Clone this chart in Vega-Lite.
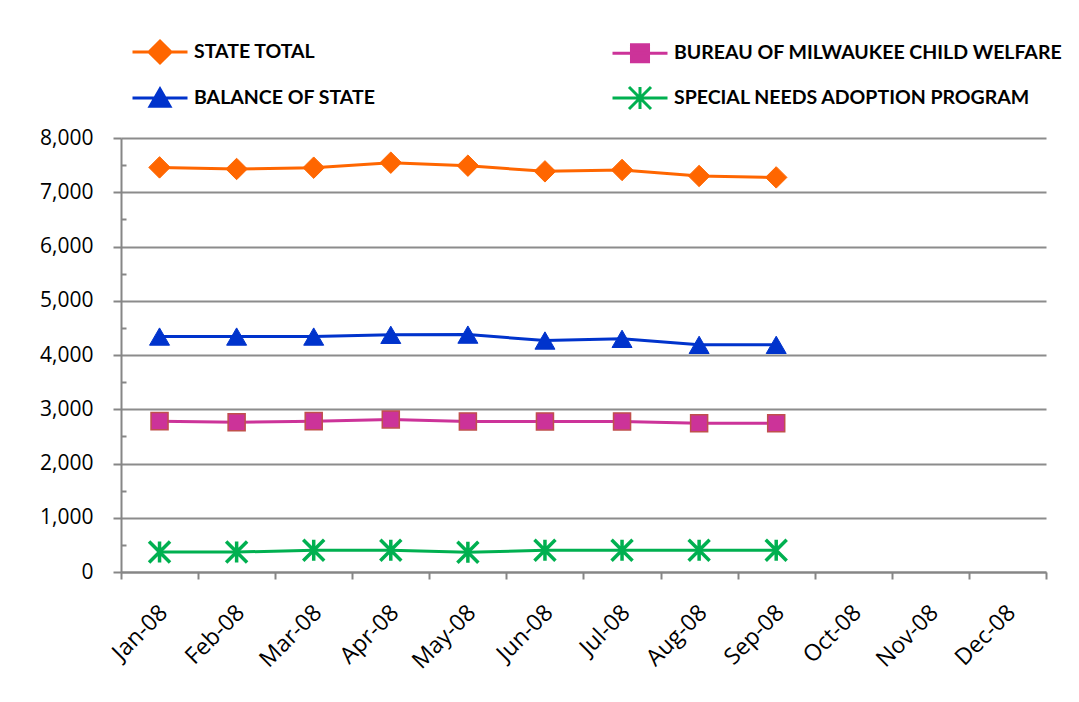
{
  "$schema": "https://vega.github.io/schema/vega-lite/v6.json",
  "width": 925,
  "height": 434,
  "autosize": {"type": "none"},
  "padding": {"left": 121, "top": 138, "right": 33, "bottom": 130},
  "background": "white",
  "config": {"view": {"stroke": null}, "font": "Open Sans"},
  "data": {
    "values": [
      {"month": "Jan-08", "series": "State Total", "value": 7458},
      {"month": "Feb-08", "series": "State Total", "value": 7429},
      {"month": "Mar-08", "series": "State Total", "value": 7453},
      {"month": "Apr-08", "series": "State Total", "value": 7545},
      {"month": "May-08", "series": "State Total", "value": 7490},
      {"month": "Jun-08", "series": "State Total", "value": 7385},
      {"month": "Jul-08", "series": "State Total", "value": 7411},
      {"month": "Aug-08", "series": "State Total", "value": 7300},
      {"month": "Sep-08", "series": "State Total", "value": 7274},
      {"month": "Jan-08", "series": "Bureau of Milwaukee Child Welfare", "value": 2781},
      {"month": "Feb-08", "series": "Bureau of Milwaukee Child Welfare", "value": 2762},
      {"month": "Mar-08", "series": "Bureau of Milwaukee Child Welfare", "value": 2781},
      {"month": "Apr-08", "series": "Bureau of Milwaukee Child Welfare", "value": 2812},
      {"month": "May-08", "series": "Bureau of Milwaukee Child Welfare", "value": 2776},
      {"month": "Jun-08", "series": "Bureau of Milwaukee Child Welfare", "value": 2776},
      {"month": "Jul-08", "series": "Bureau of Milwaukee Child Welfare", "value": 2776},
      {"month": "Aug-08", "series": "Bureau of Milwaukee Child Welfare", "value": 2740},
      {"month": "Sep-08", "series": "Bureau of Milwaukee Child Welfare", "value": 2740},
      {"month": "Jan-08", "series": "Balance of State", "value": 4340},
      {"month": "Feb-08", "series": "Balance of State", "value": 4340},
      {"month": "Mar-08", "series": "Balance of State", "value": 4340},
      {"month": "Apr-08", "series": "Balance of State", "value": 4372},
      {"month": "May-08", "series": "Balance of State", "value": 4376},
      {"month": "Jun-08", "series": "Balance of State", "value": 4267},
      {"month": "Jul-08", "series": "Balance of State", "value": 4298},
      {"month": "Aug-08", "series": "Balance of State", "value": 4187},
      {"month": "Sep-08", "series": "Balance of State", "value": 4187},
      {"month": "Jan-08", "series": "Special Needs Adoption Program", "value": 368},
      {"month": "Feb-08", "series": "Special Needs Adoption Program", "value": 368},
      {"month": "Mar-08", "series": "Special Needs Adoption Program", "value": 400},
      {"month": "Apr-08", "series": "Special Needs Adoption Program", "value": 400},
      {"month": "May-08", "series": "Special Needs Adoption Program", "value": 363},
      {"month": "Jun-08", "series": "Special Needs Adoption Program", "value": 400},
      {"month": "Jul-08", "series": "Special Needs Adoption Program", "value": 400},
      {"month": "Aug-08", "series": "Special Needs Adoption Program", "value": 400},
      {"month": "Sep-08", "series": "Special Needs Adoption Program", "value": 400}
    ]
  },
  "encoding": {
    "x": {
      "field": "month",
      "type": "ordinal",
      "scale": {
        "type": "band",
        "domain": ["Jan-08", "Feb-08", "Mar-08", "Apr-08", "May-08", "Jun-08", "Jul-08", "Aug-08", "Sep-08", "Oct-08", "Nov-08", "Dec-08"],
        "paddingInner": 0,
        "paddingOuter": 0
      },
      "axis": {
        "title": null,
        "tickBand": "extent",
        "labelAngle": -45,
        "labelFont": "Open Sans",
        "labelFontSize": 23,
        "labelColor": "black",
        "labelPadding": 22,
        "labelOffset": -4,
        "domainColor": "#868686",
        "domainWidth": 2,
        "tickColor": "#868686",
        "tickWidth": 2,
        "tickSize": 7,
        "grid": false
      }
    }
  },
  "layer": [
    {
      "mark": {"type": "line", "strokeWidth": 3},
      "encoding": {
        "y": {
          "field": "value",
          "type": "quantitative",
          "scale": {"domain": [0, 8000], "nice": false},
          "axis": {
            "title": null,
            "values": [0, 1000, 2000, 3000, 4000, 5000, 6000, 7000, 8000],
            "format": ",.0f",
            "labelFont": "Open Sans",
            "labelFontSize": 21,
            "labelColor": "black",
            "labelPadding": 20,
            "grid": true,
            "gridColor": "#8c8c8c",
            "gridWidth": 2,
            "domainColor": "#868686",
            "domainWidth": 2,
            "tickColor": "#868686",
            "tickWidth": 2,
            "tickSize": 8
          }
        },
        "color": {
          "field": "series",
          "type": "nominal",
          "scale": {
            "domain": ["State Total", "Balance of State", "Bureau of Milwaukee Child Welfare", "Special Needs Adoption Program"],
            "range": ["#FF6600", "#0033CC", "#CC3399", "#00B050"]
          },
          "legend": {
            "title": null,
            "orient": "none",
            "legendX": 10,
            "legendY": -115,
            "columns": 2,
            "columnPadding": 230,
            "rowPadding": -9,
            "padding": 0,
            "symbolSize": 3025,
            "symbolStrokeWidth": 3,
            "labelFont": "Lato",
            "labelFontSize": 19.5,
            "labelFontWeight": "bold",
            "labelColor": "black",
            "labelOffset": 5,
            "labelLimit": 0,
            "labelExpr": "upper(datum.label)",
            "encode": {
              "symbols": {
                "update": {
                  "shape": {"signal": "datum.value === 'State Total' ? 'M-1,0H1M-0.4,0L0,-0.4L0.4,0L0,0.4Z' : datum.value === 'Bureau of Milwaukee Child Welfare' ? 'M-1,0H1M-0.31,-0.31H0.31V0.31H-0.31Z' : datum.value === 'Balance of State' ? 'M-1,0H1M0,-0.33L0.36,0.3L-0.36,0.3Z' : 'M-1,0H1M-0.4,-0.4L0.4,0.4M-0.4,0.4L0.4,-0.4M0,-0.4V0.4'"},
                  "fill": {"signal": "datum.value === 'State Total' ? '#FF6600' : datum.value === 'Bureau of Milwaukee Child Welfare' ? '#CC3399' : datum.value === 'Balance of State' ? '#0033CC' : '#00B050'"},
                  "stroke": {"signal": "datum.value === 'State Total' ? '#FF6600' : datum.value === 'Bureau of Milwaukee Child Welfare' ? '#CC3399' : datum.value === 'Balance of State' ? '#0033CC' : '#00B050'"},
                  "strokeWidth": {"value": 3},
                  "opacity": {"value": 1}
                }
              }
            }
          }
        }
      }
    },
    {
      "transform": [{"filter": "datum.series === 'State Total'"}],
      "mark": {"type": "point", "shape": "diamond", "filled": true, "opacity": 1, "fill": "#FF6600", "stroke": "#FF6600", "strokeWidth": 1, "size": 460},
      "encoding": {
        "y": {
          "field": "value",
          "type": "quantitative",
          "axis": {
            "orient": "left",
            "title": null,
            "values": [500, 1500, 2500, 3500, 4500, 5500, 6500, 7500],
            "labels": false,
            "domain": false,
            "grid": false,
            "tickColor": "#868686",
            "tickWidth": 2,
            "tickSize": -5
          }
        }
      }
    },
    {
      "transform": [{"filter": "datum.series === 'Bureau of Milwaukee Child Welfare'"}],
      "mark": {"type": "point", "shape": "square", "filled": true, "opacity": 1, "fill": "#CC3399", "stroke": "#C0504D", "strokeWidth": 1.5, "size": 290},
      "encoding": {
        "y": {"field": "value", "type": "quantitative", "axis": null}
      }
    },
    {
      "transform": [{"filter": "datum.series === 'Balance of State'"}],
      "mark": {"type": "point", "shape": "triangle-up", "filled": true, "opacity": 1, "fill": "#0033CC", "stroke": "#0033CC", "strokeWidth": 1, "size": 400},
      "encoding": {
        "y": {"field": "value", "type": "quantitative", "axis": null}
      }
    },
    {
      "transform": [{"filter": "datum.series === 'Special Needs Adoption Program'"}],
      "mark": {"type": "point", "shape": "M-1,-1L1,1M-1,1L1,-1M0,-1V1", "filled": false, "opacity": 1, "stroke": "#00B050", "strokeWidth": 3.5, "size": 440},
      "encoding": {
        "y": {"field": "value", "type": "quantitative", "axis": null}
      }
    }
  ],
  "resolve": {"axis": {"y": "independent"}}
}
